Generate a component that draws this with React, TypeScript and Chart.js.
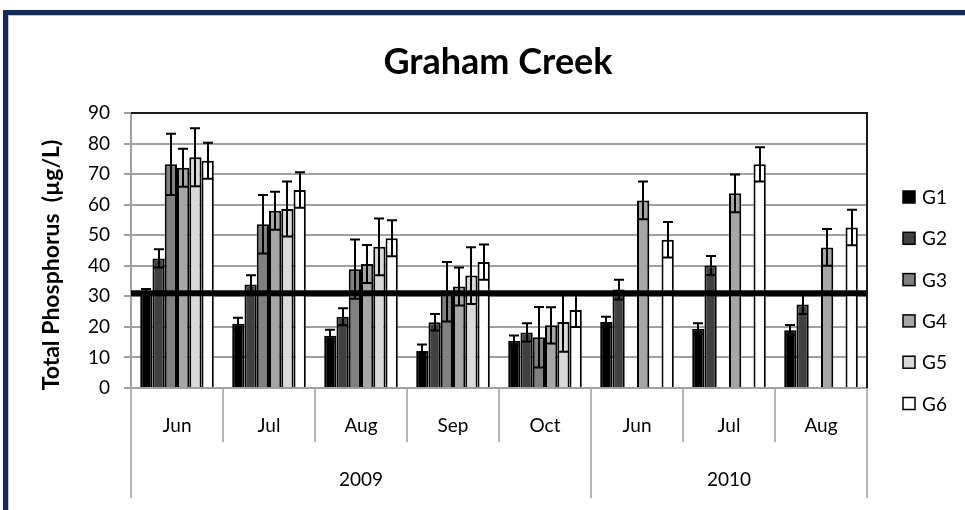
import { useEffect, useRef } from "react";
import { Chart, registerables } from "chart.js";

Chart.register(...registerables);

const months = ["Jun", "Jul", "Aug", "Sep", "Oct", "Jun", "Jul", "Aug"];
const years = ["2009", "2010"];
const yearMonthCounts = [5, 3];
const seriesNames = ["G1", "G2", "G3", "G4", "G5", "G6"];
const seriesColors = ["#000000", "#404040", "#808080", "#a6a6a6", "#d9d9d9", "#ffffff"];

const g1 = [31.8, 21, 17.1, 12.1, 15.5, 21.6, 19.4, 18.9];
const g2 = [42.4, 33.9, 23.3, 21.5, 18.2, 32.2, 40.1, 27.3];
const g3 = [73.2, 53.6, 38.9, 31.5, 16.6, null, null, null];
const g4 = [72.1, 58.0, 40.6, 33.2, 20.5, 61.4, 63.7, 46];
const g5 = [75.5, 58.6, 46.2, 36.8, 21.6, null, null, null];
const g6 = [74.4, 64.8, 49.0, 41.2, 25.5, 48.5, 73.2, 52.5];

const g1Err = [0.6, 2, 2, 2.1, 1.7, 1.7, 1.8, 1.7];
const g2Err = [3, 3, 2.8, 2.7, 3, 3.2, 3.1, 3.1];
const g3Err = [10, 9.6, 9.7, 9.7, 9.9, null, null, null];
const g4Err = [6.2, 6.2, 6.2, 6.2, 5.9, 6.2, 6.2, 6];
const g5Err = [9.5, 9, 9.3, 9.3, 9.7, null, null, null];
const g6Err = [5.9, 5.8, 5.9, 5.8, 5.5, 5.8, 5.6, 5.8];

const seriesValues = [g1, g2, g3, g4, g5, g6];
const seriesErrors = [g1Err, g2Err, g3Err, g4Err, g5Err, g6Err];

const thresholdValue = 31;
const yTicks = [0, 10, 20, 30, 40, 50, 60, 70, 80, 90];

const titleText = "Graham Creek";
const yTitleText = "Total Phosphorus  (µg/L)";

const FONT = "Lato, 'Noto Sans', sans-serif";

const titlePlugin = {
  id: "titleText",
  afterDraw(chart: any) {
    const ctx = chart.ctx;
    const area = chart.chartArea;
    ctx.save();
    ctx.fillStyle = "#000";
    ctx.font = `bold 36px ${FONT}`;
    ctx.textAlign = "center";
    ctx.textBaseline = "middle";
    ctx.fillText(titleText, 498, 62);
    // y-axis title
    ctx.translate(52, area.bottom - 123);
    ctx.rotate(-Math.PI / 2);
    ctx.font = `bold 23px ${FONT}`;
    ctx.fillText(yTitleText, 0, 0);
    ctx.restore();
  },
};

const overlayPlugin = {
  id: "overlay",
  afterDatasetsDraw(chart: any) {
    const ctx = chart.ctx;
    const ys = chart.scales.y;
    const area = chart.chartArea;
    ctx.save();
    // error bars
    ctx.strokeStyle = "#000";
    ctx.lineWidth = 2;
    seriesErrors.forEach((errs, di) => {
      const meta = chart.getDatasetMeta(di);
      meta.data.forEach((bar: any, j: number) => {
        const v = seriesValues[di][j];
        const e = errs[j];
        if (v == null || e == null) return;
        const yTop = ys.getPixelForValue(v + e);
        const yBot = ys.getPixelForValue(v - e);
        const x = Math.round(bar.x);
        ctx.beginPath();
        ctx.moveTo(x, yTop);
        ctx.lineTo(x, yBot);
        ctx.moveTo(x - 5, yTop);
        ctx.lineTo(x + 5, yTop);
        ctx.moveTo(x - 5, yBot);
        ctx.lineTo(x + 5, yBot);
        ctx.stroke();
      });
    });
    // threshold line
    const ty = ys.getPixelForValue(thresholdValue);
    ctx.fillStyle = "#000";
    ctx.fillRect(area.left, ty - 3, area.right - area.left, 6);
    // plot border top/right
    ctx.strokeStyle = "#1a1a1a";
    ctx.lineWidth = 2;
    ctx.beginPath();
    ctx.moveTo(area.left, area.top);
    ctx.lineTo(area.right, area.top);
    ctx.lineTo(area.right, area.bottom);
    ctx.stroke();
    ctx.restore();
  },
  afterDraw(chart: any) {
    const ctx = chart.ctx;
    const xs = chart.scales.x;
    const area = chart.chartArea;
    ctx.save();
    // year dividers and labels
    const bounds: number[] = [xs.left];
    let idx = 0;
    yearMonthCounts.forEach((c) => {
      idx += c;
      if (idx < months.length) {
        bounds.push((xs.getPixelForValue(idx - 1) + xs.getPixelForValue(idx)) / 2);
      } else {
        bounds.push(xs.right);
      }
    });
    ctx.strokeStyle = "#b4b4b4";
    ctx.lineWidth = 2;
    bounds.forEach((b) => {
      ctx.beginPath();
      ctx.moveTo(b, area.bottom);
      ctx.lineTo(b, area.bottom + 110);
      ctx.stroke();
    });
    ctx.fillStyle = "#000";
    ctx.font = `19px ${FONT}`;
    ctx.textAlign = "center";
    ctx.textBaseline = "middle";
    years.forEach((yr, i) => {
      ctx.fillText(yr, (bounds[i] + bounds[i + 1]) / 2, area.bottom + 92);
    });
    // legend
    seriesNames.forEach((name, i) => {
      const cy = area.top + 84 + i * 41.3;
      const bx = area.right + 36;
      ctx.fillStyle = seriesColors[i];
      ctx.fillRect(bx, cy - 6, 12, 12);
      ctx.strokeStyle = "#000";
      ctx.lineWidth = 1.5;
      ctx.strokeRect(bx, cy - 6, 12, 12);
      ctx.fillStyle = "#000";
      ctx.textAlign = "left";
      ctx.fillText(name, bx + 19, cy + 1);
    });
    ctx.restore();
  },
};

export default function App() {
  const canvasRef = useRef<HTMLCanvasElement | null>(null);

  useEffect(() => {
    if (!canvasRef.current) return;
    const chart = new Chart(canvasRef.current, {
      type: "bar",
      data: {
        labels: months,
        datasets: seriesNames.map((name, i) => ({
          label: name,
          data: seriesValues[i] as any,
          backgroundColor: seriesColors[i],
          borderColor: "#000",
          borderWidth: 2,
          categoryPercentage: 0.8,
          barPercentage: 1.0,
        })),
      },
      options: {
        animation: false,
        responsive: false,
        devicePixelRatio: 1,
        layout: { padding: { left: 0, top: 113, right: 98, bottom: 12 } },
        plugins: {
          legend: { display: false },
          title: { display: false },
          tooltip: { enabled: false },
        },
        scales: {
          x: {
            offset: true,
            grid: {
              offset: true,
              drawOnChartArea: false,
              color: "#b4b4b4",
              lineWidth: 2,
              tickLength: 54,
            },
            border: { color: "#a0a0a0", width: 2 },
            ticks: {
              padding: -28,
              color: "#000",
              font: { family: FONT, size: 19 },
              maxRotation: 0,
              autoSkip: false,
            },
            afterFit: (s: any) => {
              s.height = 110;
            },
          },
          y: {
            min: 0,
            max: 90,
            afterBuildTicks: (s: any) => {
              s.ticks = yTicks.map((v) => ({ value: v }));
            },
            ticks: {
              padding: 14,
              color: "#000",
              font: { family: FONT, size: 19 },
            },
            grid: { color: "#a0a0a0", lineWidth: 2, tickLength: 7 },
            border: { color: "#a0a0a0", width: 2 },
            afterFit: (s: any) => {
              s.width = 131;
            },
          },
        },
      },
      plugins: [titlePlugin, overlayPlugin],
    });
    return () => chart.destroy();
  }, []);

  return (
    <div
      style={{
        position: "fixed",
        left: 0,
        top: 0,
        width: 965,
        height: 510,
        background: "#fff",
        overflow: "hidden",
      }}
    >
      <div
        style={{
          position: "absolute",
          left: 3,
          top: 10,
          width: 1000,
          height: 600,
          borderTop: "5px solid #10295e",
          borderLeft: "5px solid #10295e",
          boxSizing: "border-box",
        }}
      >
        <div
          style={{
            width: "100%",
            height: "100%",
            borderTop: "1px solid #c4c4c4",
            borderLeft: "1px solid #c4c4c4",
          }}
        />
      </div>
      <canvas
        ref={canvasRef}
        width={965}
        height={510}
        style={{ position: "absolute", left: 0, top: 0, width: 965, height: 510 }}
      />
    </div>
  );
}
